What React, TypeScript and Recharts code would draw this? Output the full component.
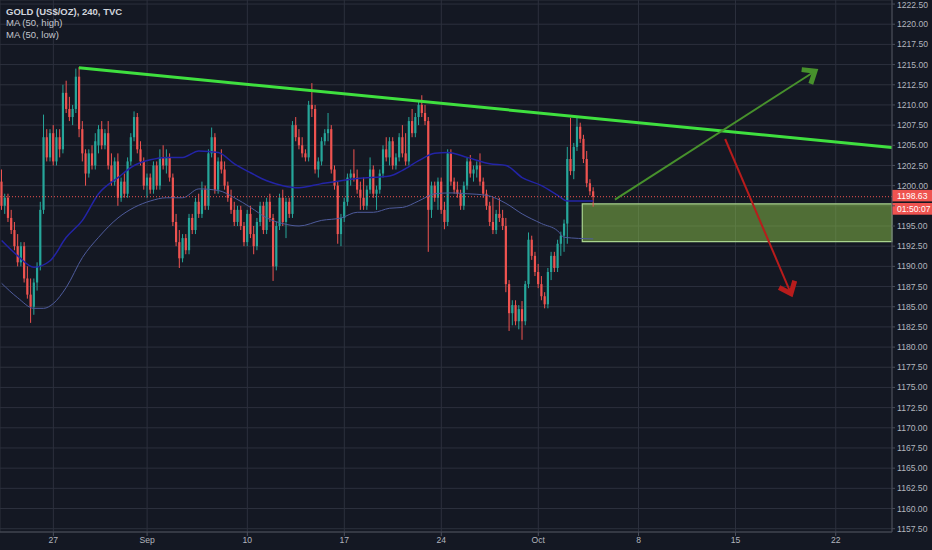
import React from "react";
import {
  ComposedChart,
  Bar,
  Line,
  XAxis,
  YAxis,
  CartesianGrid,
  ReferenceLine,
  ReferenceArea,
} from "recharts";

// ---- data ----
// [open, high, low, close] for each 240-minute bar
const candles: number[][] = [
  [1200.5, 1202, 1197, 1197.5], [1197.5, 1199, 1196.5, 1198.5], [1198.5, 1199, 1195.5, 1196], [1196, 1197, 1194, 1194.5],
  [1194.5, 1195.5, 1192, 1192.5], [1192.5, 1194, 1190, 1190.5], [1190.5, 1193, 1190, 1192.5], [1192.5, 1193, 1188, 1188.5],
  [1188.5, 1190, 1186, 1186.5], [1186.5, 1188.5, 1183, 1185],
  [1185, 1188.5, 1184, 1188], [1188, 1190.5, 1187, 1190], [1190, 1198, 1189.5, 1197], [1197, 1208.8, 1196.5, 1206],
  [1206, 1207, 1203, 1203.5], [1203.5, 1207, 1203, 1206.5], [1206.5, 1207.5, 1202.5, 1203], [1203, 1207, 1202.5, 1206],
  [1206, 1207, 1203.5, 1204.5], [1204.5, 1212.5, 1204, 1211.5],
  [1211.5, 1213, 1209, 1209.5], [1209.5, 1211, 1208, 1208.5], [1208.5, 1210, 1207.5, 1209.5], [1209.5, 1214.5, 1209, 1213.5],
  [1213.5, 1214.7, 1206, 1207], [1207, 1208, 1203, 1204], [1204, 1204.5, 1200, 1201.5], [1201.5, 1204.5, 1201, 1204],
  [1204, 1205, 1202, 1202.5], [1202.5, 1206.5, 1202, 1205.5],
  [1205, 1207.5, 1204, 1207], [1207, 1208, 1204.5, 1205], [1205, 1207, 1204.5, 1206.5], [1206.5, 1208, 1202, 1202.5],
  [1202.5, 1204, 1200, 1200.5], [1200.5, 1203.5, 1200, 1203], [1203, 1204, 1197.5, 1198.5], [1198.5, 1201, 1198, 1200.5],
  [1200.5, 1201.5, 1198.5, 1199], [1199, 1203.5, 1198.5, 1203],
  [1203, 1206.5, 1202.5, 1206], [1206, 1209.2, 1205.5, 1208.5], [1208.5, 1209, 1204, 1204.5], [1204.5, 1205.5, 1202.5, 1203],
  [1203, 1203.5, 1199.5, 1200], [1200, 1201.5, 1198.5, 1201], [1201, 1201.5, 1199, 1199.5], [1199.5, 1203, 1199, 1202.5],
  [1202.5, 1203, 1199.5, 1200], [1200, 1204.5, 1199.5, 1203.5],
  [1203.5, 1205, 1202, 1202.5], [1202.5, 1204.5, 1201.5, 1203.5], [1203.5, 1204, 1200.5, 1201], [1201, 1201.5, 1195, 1195.5],
  [1195.5, 1196.5, 1192.5, 1193], [1193, 1194.5, 1189.8, 1191], [1191, 1194, 1190.5, 1193.5], [1193.5, 1194, 1191.5, 1192],
  [1192, 1196.5, 1191.5, 1196], [1196, 1196.5, 1194, 1194.5],
  [1194.5, 1198.5, 1194, 1198], [1198, 1199, 1196, 1196.5], [1196.5, 1200.5, 1196, 1199.5], [1199.5, 1200, 1197, 1197.5],
  [1197.5, 1204.5, 1197, 1204], [1204, 1207.2, 1203.5, 1206], [1206, 1206.5, 1199, 1199.5], [1199.5, 1203.5, 1199, 1203],
  [1203, 1204.5, 1201.5, 1202], [1202, 1203, 1199.5, 1200],
  [1200, 1200.5, 1198, 1198.5], [1198.5, 1199.5, 1196.5, 1197], [1197, 1198, 1195, 1195.5], [1195.5, 1197.5, 1195, 1197],
  [1197, 1197.5, 1194.5, 1195], [1195, 1195.5, 1192.5, 1193], [1193, 1197, 1192.5, 1196.5], [1196.5, 1197.5, 1193.5, 1194],
  [1194, 1195, 1191.5, 1192.5], [1192.5, 1196, 1192, 1195.5],
  [1195.5, 1198, 1195, 1197.5], [1197.5, 1198, 1194, 1194.5], [1194.5, 1198.5, 1194, 1198], [1198, 1199, 1195.5, 1196],
  [1196, 1196.5, 1188.2, 1190], [1190, 1195.5, 1189.5, 1195], [1195, 1199, 1194.5, 1198.5], [1198.5, 1199.5, 1195, 1195.5],
  [1195.5, 1198.5, 1193.5, 1198], [1198, 1198.5, 1196, 1196.5],
  [1196.5, 1208, 1196, 1207.5], [1207.5, 1208.5, 1205.5, 1206], [1206, 1207, 1204.5, 1205], [1205, 1206, 1203.5, 1204],
  [1204, 1204.5, 1203, 1203.5], [1203.5, 1210.5, 1203, 1210], [1210, 1212.7, 1208.5, 1209.5], [1209.5, 1210, 1201.5, 1202],
  [1202, 1203.5, 1201, 1203], [1203, 1206, 1202.5, 1205.5],
  [1205.5, 1207, 1205, 1206.5], [1206.5, 1209, 1205.5, 1207], [1207, 1207.5, 1201.5, 1202], [1202, 1202.5, 1199.5, 1200],
  [1200, 1200.5, 1192.8, 1194], [1194, 1196.5, 1192.5, 1196], [1196, 1198.5, 1195.5, 1198], [1198, 1201.5, 1197.5, 1201],
  [1201, 1202, 1200, 1201.5], [1201.5, 1204.5, 1200.5, 1201],
  [1201, 1202, 1199, 1199.5], [1199.5, 1200.5, 1197, 1198.5], [1198.5, 1201, 1197, 1197.5], [1197.5, 1200, 1197, 1199.5],
  [1199.5, 1203.5, 1199, 1202], [1202, 1202.5, 1198.5, 1199], [1199, 1200, 1197, 1199.5], [1199.5, 1202, 1199, 1201.5],
  [1201.5, 1205, 1201, 1204.5], [1204.5, 1206, 1203, 1203.5],
  [1203.5, 1206, 1202.5, 1205.5], [1205.5, 1206, 1202, 1202.5], [1202.5, 1204, 1202, 1203.5], [1203.5, 1206.5, 1203, 1206],
  [1206, 1207.5, 1203.5, 1204], [1204, 1206.5, 1202.5, 1203], [1203, 1208.5, 1202.5, 1208], [1208, 1209.5, 1206, 1206.5],
  [1206.5, 1209, 1206, 1208.5], [1208.5, 1210.5, 1207.5, 1210],
  [1210, 1211.2, 1208.5, 1209], [1209, 1210, 1207.5, 1208], [1208, 1208.5, 1191.8, 1197], [1197, 1200.5, 1196, 1200],
  [1200, 1200.5, 1198, 1198.5], [1198.5, 1201, 1197, 1200.5], [1200.5, 1201, 1196.5, 1197], [1197, 1198, 1194.6, 1195.5],
  [1195.5, 1204.5, 1195, 1204], [1204, 1204.5, 1200, 1200.5],
  [1200.5, 1201, 1199, 1199.5], [1199.5, 1200.5, 1198.5, 1199], [1199, 1199.5, 1197, 1197.5], [1197.5, 1200.5, 1197, 1200],
  [1200, 1203.5, 1199.5, 1203], [1203, 1203.8, 1201, 1201.5], [1201.5, 1202.5, 1200.5, 1202], [1202, 1203, 1201, 1202.5],
  [1202.5, 1204, 1200, 1200.5], [1200.5, 1201, 1198.5, 1199],
  [1199, 1199.5, 1197, 1197.5], [1197.5, 1198, 1195, 1195.5], [1195.5, 1198.5, 1194, 1194.5], [1194.5, 1197, 1194, 1196.5],
  [1196.5, 1198.5, 1195.5, 1196], [1196, 1197, 1194.5, 1195], [1195, 1196, 1186.8, 1187.8], [1187.8, 1188.3, 1182, 1184.2],
  [1184.2, 1185.8, 1182.7, 1185.2], [1185.2, 1185.8, 1182.7, 1183.2],
  [1183.2, 1185.2, 1182.2, 1184.7], [1184.7, 1185.7, 1180.9, 1183.2], [1183.2, 1188.2, 1182.7, 1187.8], [1187.8, 1194.2, 1187.3, 1193.3],
  [1193.3, 1193.8, 1190.8, 1191.3], [1191.3, 1191.8, 1188.8, 1189.3], [1189.3, 1190.3, 1187.3, 1187.8], [1187.8, 1188.8, 1185.8, 1186.3],
  [1186.3, 1186.8, 1184.8, 1185.3], [1185.3, 1189.8, 1184.8, 1189.3],
  [1189.3, 1191.8, 1188.3, 1191.3], [1191.3, 1191.8, 1189.3, 1189.8], [1189.8, 1193.3, 1189.3, 1192.8], [1192.8, 1194.3, 1191.3, 1193.8],
  [1193.8, 1195.8, 1191.8, 1195.3], [1195.3, 1204.8, 1192.8, 1203.3], [1203.3, 1208.4, 1201.3, 1201.8], [1201.8, 1205.3, 1200.8, 1204.8],
  [1204.8, 1208.4, 1204.3, 1207.3], [1207.3, 1207.8, 1205.3, 1205.8],
  [1205.8, 1206.3, 1202.8, 1203.3], [1203.3, 1204.3, 1199.8, 1200.3], [1200.3, 1200.8, 1198.8, 1199.3], [1199.3, 1199.8, 1197.4, 1198.63],
];

// moving averages: [bar index, value]
const maHigh: number[][] = [
  [0, 1193.2], [5, 1191.3], [10, 1189.9], [15, 1190.7], [20, 1193.6], [25, 1195.7], [30, 1199.0],
  [36, 1201.0], [41, 1202.5], [46, 1203.2], [51, 1203.5], [56, 1203.5], [61, 1204.3], [67, 1204.1],
  [72, 1202.7], [77, 1201.6], [82, 1200.6], [87, 1200.0], [92, 1199.75], [99, 1200.25], [110, 1200.9],
  [120, 1201.2], [124, 1201.9], [129, 1203.1], [134, 1204.0], [138, 1204.1], [144, 1203.5], [151, 1202.7],
  [156, 1202.5], [161, 1201.0], [167, 1200.0], [172, 1198.8], [175, 1198.1], [183, 1198.1],
];
const maLow: number[][] = [
  [0, 1187.9], [5, 1186.1], [10, 1184.8], [13, 1184.8], [16, 1185.4], [20, 1187.4], [25, 1191.1],
  [30, 1193.6], [36, 1196.0], [41, 1197.3], [46, 1198.1], [51, 1198.5], [56, 1198.5], [61, 1199.6],
  [67, 1199.4], [72, 1198.5], [77, 1197.3], [82, 1196.0], [87, 1195.3], [92, 1195.0], [99, 1195.7],
  [105, 1196.0], [110, 1196.7], [115, 1196.7], [120, 1197.2], [124, 1197.3], [129, 1198.1], [134, 1199.0],
  [139, 1199.1], [144, 1199.0], [150, 1198.8], [156, 1197.8], [161, 1196.5], [167, 1195.3], [172, 1194.4],
  [174, 1193.6], [183, 1193.4],
];

const xTicks = [16, 45, 76, 106, 136, 166, 197, 227, 258];
const xLabels = ["27", "Sep", "10", "17", "24", "Oct", "8", "15", "22"];
const yTicks = [
  1157.5, 1160, 1162.5, 1165, 1167.5, 1170, 1172.5, 1175, 1177.5, 1180, 1182.5, 1185, 1187.5, 1190,
  1192.5, 1195, 1197.5, 1200, 1202.5, 1205, 1207.5, 1210, 1212.5, 1215, 1217.5, 1220, 1222.5,
];
// tick label hidden behind the last-price tag
const hiddenYLabels = [1197.5];
const xDomain = [-0.5, 275.4];
const yDomain = [1157.09, 1223.0];

const lastPrice = 1198.63;
const countdown = "01:50:07";
const trendLine = [[23.9, 1214.6], [275.4, 1204.72]];
const upArrow = [[189.7, 1198.27], [252.1, 1214.32]];
const downArrow = [[223.8, 1205.78], [244.4, 1186.39]];
const zoneBox = [179.6, 1193.07, 275.4, 1197.74];

// ---- styles ----
const BG = "#141823";
const GRID = "#2c303d";
const TXT = "#b2b5be";
const UP = "#26a69a";
const DOWN = "#ef5350";
const FONT = "'Liberation Sans', Arial, sans-serif";

const data = candles.map((c, i) => {
  const row: any = { i, o: c[0], h: c[1], l: c[2], c: c[3], range: [c[2], c[1]] };
  return row;
});
maHigh.forEach(([i, v]) => { data[i].mah = v; });
maLow.forEach(([i, v]) => { data[i].mal = v; });

const Candle = (props: any) => {
  const { x, y, width, height, payload } = props;
  if (!payload || x == null) return null;
  const { o, h, l, c } = payload;
  const top = Math.min(y, y + height);
  const hh = Math.abs(height);
  const cx = x + width / 2;
  const py = (p: number) => top + ((h - p) / (h - l)) * hh;
  const color = c >= o ? UP : DOWN;
  const bt = py(Math.max(o, c));
  const bb = py(Math.min(o, c));
  return (
    <g>
      <line x1={cx} x2={cx} y1={top} y2={top + hh} stroke={color} strokeWidth={1} />
      <rect x={cx - 1.1} y={bt} width={2.2} height={Math.max(bb - bt, 0.8)} fill={color} />
    </g>
  );
};

const YTick = (props: any) => {
  const { x, y, payload } = props;
  const v = payload?.value;
  if (v == null || hiddenYLabels.includes(v)) return null;
  return (
    <text
      x={x}
      y={Math.max(y, 4.6)}
      dy="0.355em"
      textAnchor="start"
      fill={TXT}
      fontSize={8.6}
      fontFamily={FONT}
    >
      {Number(v).toFixed(2)}
    </text>
  );
};

const makeArrow = (color: string) => (p: any) => {
  const { x1, y1, x2, y2 } = p;
  if (x1 == null) return null;
  const ang = Math.atan2(y2 - y1, x2 - x1);
  const L = 15;
  const s = 0.6;
  const ax = x2 - L * Math.cos(ang - s);
  const ay = y2 - L * Math.sin(ang - s);
  const bx = x2 - L * Math.cos(ang + s);
  const by = y2 - L * Math.sin(ang + s);
  const ex = x2 - 4 * Math.cos(ang);
  const ey = y2 - 4 * Math.sin(ang);
  return (
    <g>
      <line x1={x1} y1={y1} x2={ex} y2={ey} stroke={color} strokeWidth={2} />
      <polyline
        points={`${ax},${ay} ${x2 - 2 * Math.cos(ang)},${y2 - 2 * Math.sin(ang)} ${bx},${by}`}
        fill="none"
        stroke={color}
        strokeWidth={5}
        strokeLinejoin="miter"
      />
    </g>
  );
};

const PriceTag = (props: any) => {
  const vb = props.viewBox || {};
  const right = (vb.x ?? 0) + (vb.width ?? 0);
  const y = vb.y ?? 0;
  return (
    <g>
      <rect x={right} y={y - 6.8} width={40} height={11.5} fill={DOWN} />
      <text x={right + 5} y={y + 2.6} fill="#ffffff" fontSize={8.6} fontFamily={FONT}>
        {lastPrice.toFixed(2)}
      </text>
      <rect x={right} y={y + 6.3} width={40} height={11.7} fill={DOWN} />
      <text x={right + 5} y={y + 15.2} fill="#ffffff" fontSize={8.6} fontFamily={FONT}>
        {countdown}
      </text>
    </g>
  );
};

export default function App() {
  return (
    <div
      style={{
        position: "absolute",
        left: 0,
        top: 0,
        width: 932,
        height: 550,
        background: BG,
        fontFamily: FONT,
        overflow: "hidden",
      }}
    >
      <ComposedChart width={932} height={550} data={data} margin={{ top: 0, right: 0, bottom: 0, left: 0 }}>
        <CartesianGrid stroke={GRID} strokeWidth={1} />
        <XAxis
          dataKey="i"
          type="number"
          domain={xDomain}
          allowDataOverflow
          ticks={xTicks}
          interval={0}
          height={18}
          tickFormatter={(v: number) => xLabels[xTicks.indexOf(v)] ?? ""}
          tick={{ fill: TXT, fontSize: 8.6, fontFamily: FONT }}
          tickSize={4}
          tickMargin={1}
          stroke="#4a4e5a"
        />
        <YAxis
          orientation="right"
          width={40}
          domain={yDomain}
          allowDataOverflow
          ticks={yTicks}
          interval={0}
          tick={<YTick />}
          tickSize={3}
          tickMargin={2}
          stroke="#4a4e5a"
        />
        <Line
          dataKey="mah"
          type="monotone"
          stroke="#2324a6"
          strokeWidth={1.5}
          dot={false}
          activeDot={false}
          connectNulls
          isAnimationActive={false}
        />
        <Line
          dataKey="mal"
          type="monotone"
          stroke="#4e5b9c"
          strokeWidth={1}
          dot={false}
          activeDot={false}
          connectNulls
          isAnimationActive={false}
        />
        <Bar dataKey="range" barSize={3} shape={<Candle />} isAnimationActive={false} />
        <ReferenceLine
          y={lastPrice}
          stroke={DOWN}
          strokeDasharray="1 2"
          strokeWidth={1}
          label={<PriceTag />}
        />
        <ReferenceArea
          x1={zoneBox[0]}
          x2={zoneBox[2]}
          y1={zoneBox[1]}
          y2={zoneBox[3]}
          fill="#8bc34a"
          fillOpacity={0.5}
          stroke="#a9d48e"
          strokeWidth={1.2}
          ifOverflow="visible"
        />
        <ReferenceLine
          segment={[{ x: trendLine[0][0], y: trendLine[0][1] }, { x: trendLine[1][0], y: trendLine[1][1] }]}
          stroke="#3fe03f"
          strokeWidth={3}
          ifOverflow="visible"
        />
        <ReferenceLine
          segment={[{ x: upArrow[0][0], y: upArrow[0][1] }, { x: upArrow[1][0], y: upArrow[1][1] }]}
          stroke="#47912c"
          ifOverflow="visible"
          shape={makeArrow("#47912c")}
        />
        <ReferenceLine
          segment={[{ x: downArrow[0][0], y: downArrow[0][1] }, { x: downArrow[1][0], y: downArrow[1][1] }]}
          stroke="#b81c1c"
          ifOverflow="visible"
          shape={makeArrow("#b81c1c")}
        />
      </ComposedChart>
      <div style={{ position: "absolute", left: 6, top: 6, color: "#d1d4dc", fontSize: 9.5, lineHeight: "11.4px" }}>
        <div style={{ fontWeight: 700 }}>GOLD (US$/OZ), 240, TVC</div>
        <div style={{ color: "#c3c6ce" }}>MA (50, high)</div>
        <div style={{ color: "#c3c6ce" }}>MA (50, low)</div>
      </div>
    </div>
  );
}
